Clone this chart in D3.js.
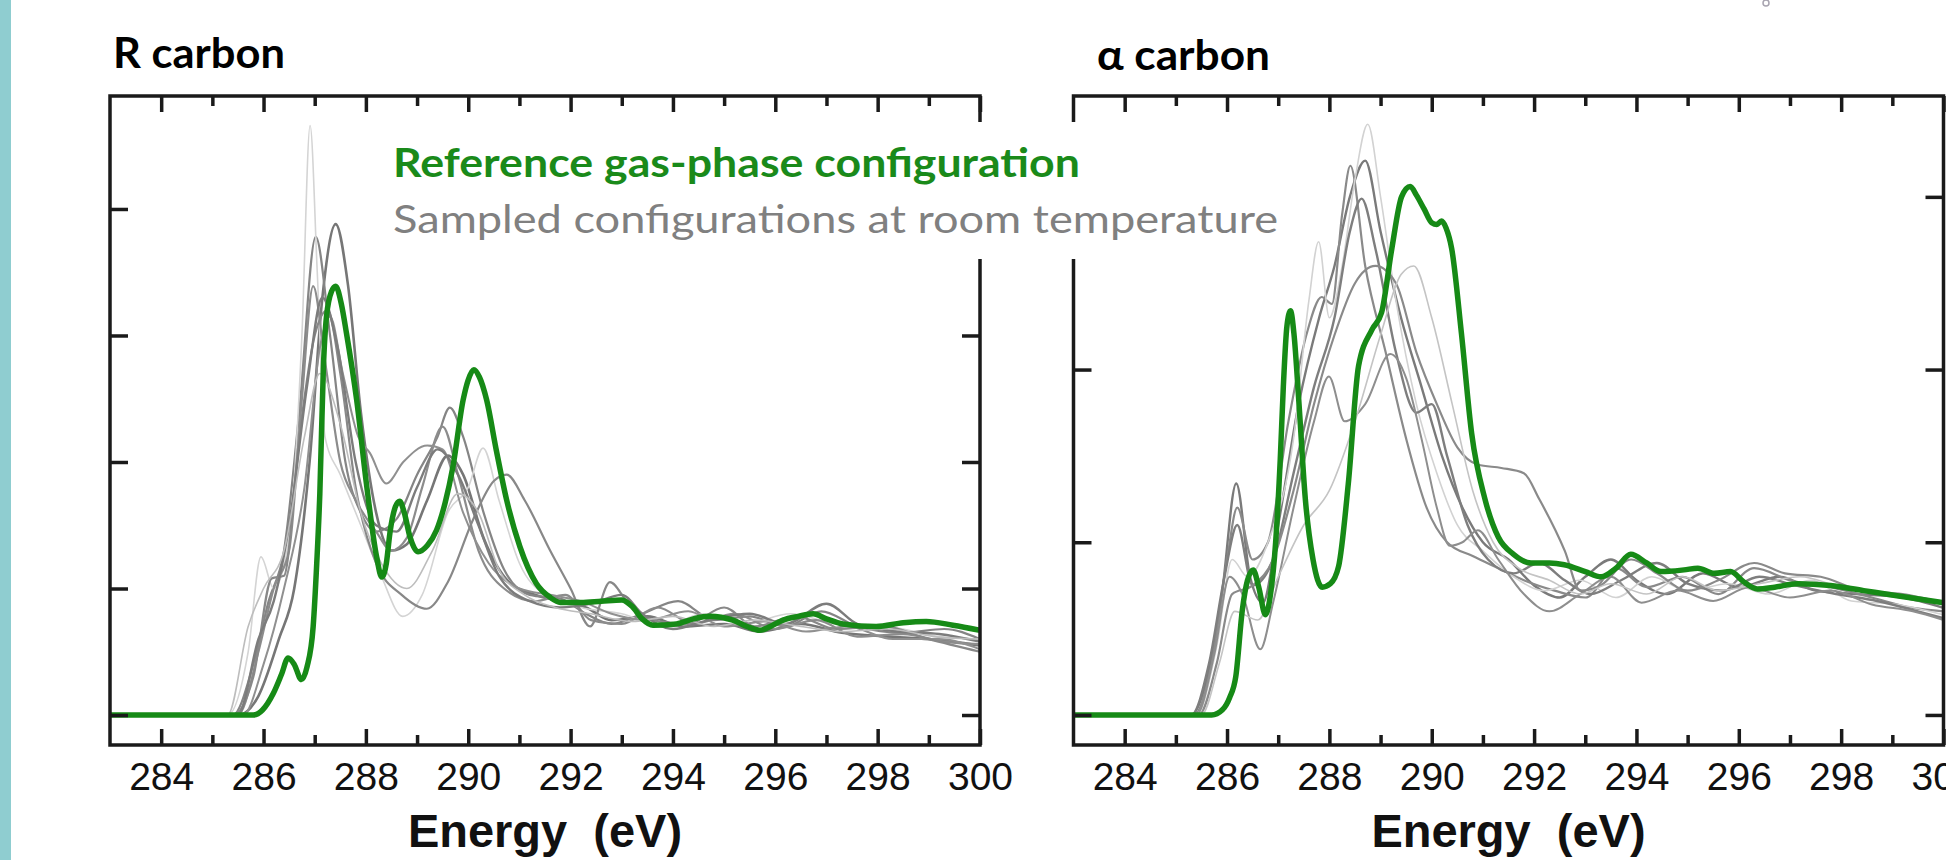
<!DOCTYPE html>
<html>
<head>
<meta charset="utf-8">
<script src="https://cdn.jsdelivr.net/npm/d3@7"></script>
<style>
body { margin: 0; background: #fff; overflow: hidden; }
svg { display: block; }
</style>
</head>
<body>
<div id="chart-area"></div>
<script>
const WIDTH = 1946
const HEIGHT = 860

// tick values (energy in eV, intensity in arbitrary tick units)
const energyTicks = [284, 286, 288, 290, 292, 294, 296, 298, 300]
const energyMinor = [285, 287, 289, 291, 293, 295, 297, 299]
const rTicksY = [0, 1, 2, 3, 4]
const alphaTicksY = [0, 1, 2, 3]

// R carbon: reference gas-phase spectrum [eV, intensity]
const rCarbonRef = [[283,0],[285.8,0],[285.98,0.04],[286.19,0.17],[286.35,0.32],[286.48,0.45],[286.6,0.4],[286.74,0.28],[286.85,0.38],[286.97,0.7],[287.04,1.2],[287.1,1.75],[287.17,2.75],[287.23,3.15],[287.33,3.35],[287.41,3.39],[287.52,3.25],[287.62,3.02],[287.82,2.49],[288.01,1.83],[288.21,1.25],[288.31,1.09],[288.4,1.2],[288.47,1.44],[288.58,1.65],[288.66,1.69],[288.75,1.6],[288.86,1.41],[289.02,1.29],[289.2,1.34],[289.38,1.46],[289.55,1.68],[289.7,1.96],[289.9,2.49],[290,2.65],[290.11,2.73],[290.22,2.67],[290.36,2.49],[290.55,2.09],[290.75,1.7],[291.01,1.33],[291.33,1.04],[291.6,0.93],[291.8,0.89],[292.2,0.89],[292.6,0.9],[293,0.91],[293.2,0.86],[293.4,0.76],[293.61,0.71],[294.07,0.72],[294.4,0.76],[294.72,0.78],[295.17,0.75],[295.45,0.7],[295.7,0.67],[295.95,0.71],[296.15,0.75],[296.45,0.78],[296.74,0.8],[297,0.76],[297.32,0.72],[297.97,0.7],[298.5,0.73],[298.95,0.74],[299.47,0.71],[300,0.67]]

// R carbon: sampled room temperature configurations
const rCarbonSampled = [
  [[283,0],[285.5,0],[285.9,0.15],[286.3,0.6],[286.6,1.0],[286.9,2.0],[287.15,3.3],[287.41,3.88],[287.65,3.4],[287.9,2.4],[288.2,1.6],[288.5,1.3],[288.8,1.35],[289.2,1.7],[289.6,2.05],[289.9,1.9],[290.3,1.4],[290.8,1.05],[291.3,0.95],[291.8,0.9],[292.3,0.85],[292.8,0.75],[293.5,0.78],[294.2,0.7],[295,0.72],[295.7,0.66],[296.5,0.72],[297.3,0.65],[298.2,0.62],[299,0.6],[300,0.55]],
  [[283,0],[285.4,0],[285.8,0.4],[286.1,0.9],[286.4,1.3],[286.7,2.4],[287.02,3.78],[287.3,3.0],[287.6,2.0],[287.9,1.6],[288.2,1.45],[288.6,1.55],[289,1.9],[289.4,2.2],[289.64,2.43],[289.9,2.2],[290.3,1.6],[290.7,1.15],[291.2,0.95],[291.8,0.92],[292.3,0.8],[292.8,0.72],[293.4,0.8],[294.1,0.9],[294.8,0.75],[295.5,0.78],[296.2,0.7],[296.9,0.82],[297.6,0.7],[298.5,0.65],[299.3,0.68],[300,0.6]],
  [[283,0],[285.3,0],[285.7,0.5],[285.95,1.25],[286.2,1.0],[286.5,1.4],[286.75,3.0],[286.91,4.66],[287.05,3.5],[287.2,2.2],[287.5,1.9],[287.9,1.5],[288.3,1.1],[288.72,0.78],[289.1,0.95],[289.6,1.6],[290,1.8],[290.29,2.11],[290.6,1.7],[291,1.2],[291.5,0.95],[292.2,0.85],[293,0.8],[293.8,0.7],[294.6,0.8],[295.4,0.72],[296.3,0.8],[297.2,0.72],[298.2,0.7],[299.2,0.62],[300,0.6]],
  [[283,0],[285.5,0],[285.9,0.5],[286.2,1.0],[286.5,1.3],[286.75,2.5],[286.97,3.39],[287.2,2.8],[287.5,2.0],[287.8,1.7],[288.2,1.45],[288.5,1.3],[288.8,1.4],[289.1,1.8],[289.5,2.28],[289.8,1.9],[290.2,1.3],[290.7,1.0],[291.3,0.9],[291.9,0.95],[292.4,0.75],[293,0.72],[293.7,0.85],[294.4,0.72],[295.2,0.8],[296,0.68],[296.8,0.75],[297.6,0.62],[298.5,0.64],[299.3,0.58],[300,0.56]],
  [[283,0],[285.6,0],[286,0.4],[286.4,1.0],[286.8,1.8],[287.1,2.9],[287.3,3.15],[287.55,2.7],[287.85,2.2],[288.08,2.07],[288.4,1.83],[288.73,2.0],[289.2,2.13],[289.5,2.1],[289.9,1.6],[290.4,1.2],[291,1.0],[291.6,0.95],[292.2,0.9],[292.8,0.8],[293.5,0.75],[294.3,0.82],[295,0.7],[295.8,0.74],[296.6,0.66],[297.4,0.7],[298.3,0.6],[299.2,0.6],[300,0.52]],
  [[283,0],[285.4,0],[285.8,0.3],[286.16,1.08],[286.4,1.1],[286.7,2.2],[287,3.0],[287.25,3.2],[287.5,2.7],[287.8,1.8],[288.2,1.2],[288.7,0.95],[289.19,0.84],[289.6,1.05],[290.1,1.55],[290.5,1.85],[290.75,1.9],[291.1,1.7],[291.6,1.3],[292,1.0],[292.38,0.7],[292.77,1.05],[293.1,0.9],[293.6,0.75],[294.3,0.72],[295,0.85],[295.6,0.7],[296.4,0.78],[297.2,0.68],[298.1,0.7],[299,0.6],[300,0.5]],
  [[283,0],[285.5,0],[285.9,0.6],[286.2,0.9],[286.5,1.5],[286.85,2.6],[287.15,3.3],[287.45,2.9],[287.8,2.0],[288.2,1.5],[288.6,1.45],[289,1.8],[289.4,2.1],[289.8,1.9],[290.2,1.5],[290.6,1.1],[291.2,0.9],[291.8,0.85],[292.4,0.88],[293,0.95],[293.4,0.8],[294,0.68],[294.7,0.75],[295.5,0.8],[296.2,0.72],[297,0.88],[297.6,0.72],[298.4,0.66],[299.2,0.64],[300,0.58]],
  [[283,0],[285.3,0],[285.7,0.7],[286,1.0],[286.4,1.3],[286.8,2.2],[287.1,2.7],[287.5,2.3],[287.9,1.6],[288.3,1.2],[288.8,1.0],[289.3,1.3],[289.8,1.75],[290.2,1.6],[290.6,1.15],[291.1,0.95],[291.7,0.85],[292.4,0.8],[293.2,0.74],[294,0.78],[294.8,0.7],[295.6,0.75],[296.5,0.7],[297.3,0.66],[298.2,0.68],[299.1,0.62],[300,0.6]]
]

// alpha carbon: reference gas-phase spectrum
const alphaCarbonRef = [[283,0],[285.7,0],[285.91,0.03],[286.05,0.1],[286.17,0.22],[286.3,0.61],[286.4,0.78],[286.51,0.84],[286.62,0.74],[286.75,0.58],[286.85,0.7],[286.95,1.0],[287.04,1.48],[287.1,1.9],[287.17,2.25],[287.24,2.34],[287.31,2.2],[287.4,1.83],[287.53,1.25],[287.68,0.9],[287.86,0.74],[288.02,0.76],[288.18,0.86],[288.37,1.34],[288.57,2.02],[288.83,2.23],[289.02,2.33],[289.22,2.7],[289.41,3.0],[289.58,3.06],[289.7,3.01],[289.85,2.93],[290,2.85],[290.1,2.84],[290.19,2.86],[290.28,2.82],[290.39,2.7],[290.58,2.21],[290.78,1.63],[291.04,1.25],[291.3,1.03],[291.6,0.93],[291.94,0.88],[292.3,0.88],[292.59,0.87],[293,0.83],[293.31,0.8],[293.6,0.85],[293.89,0.93],[294.2,0.88],[294.48,0.83],[294.93,0.84],[295.2,0.85],[295.52,0.82],[295.84,0.83],[296.1,0.77],[296.36,0.73],[296.7,0.74],[297.14,0.76],[297.79,0.75],[298.44,0.72],[299.09,0.69],[300,0.65]]

// alpha carbon: sampled room temperature configurations
const alphaCarbonSampled = [
  [[283,0],[285.3,0],[285.6,0.2],[285.9,0.7],[286.18,1.34],[286.45,0.8],[286.7,0.65],[287,1.1],[287.4,1.8],[287.8,2.3],[288.1,2.6],[288.4,3.0],[288.7,3.21],[289,2.8],[289.4,2.3],[289.8,1.9],[290.2,1.5],[290.6,1.2],[291,1.0],[291.5,0.9],[292,0.75],[292.5,0.68],[293,0.8],[293.5,0.9],[294,0.78],[294.6,0.7],[295.3,0.82],[296,0.74],[296.8,0.8],[297.5,0.72],[298.3,0.7],[299.2,0.68],[300,0.62]],
  [[283,0],[285.35,0],[285.7,0.3],[286,0.9],[286.2,1.2],[286.5,0.9],[286.8,1.0],[287.2,1.7],[287.55,2.2],[287.85,2.42],[288.05,2.38],[288.25,2.9],[288.41,3.18],[288.7,2.6],[289.1,2.1],[289.5,1.6],[289.9,1.2],[290.3,1.0],[290.8,0.92],[291.3,0.85],[291.8,0.78],[292.4,0.72],[293,0.68],[293.6,0.85],[294.2,0.74],[294.9,0.8],[295.6,0.7],[296.3,0.85],[297,0.78],[297.8,0.74],[298.6,0.68],[299.4,0.62],[300,0.6]],
  [[283,0],[285.4,0],[285.8,0.4],[286.1,0.9],[286.4,0.8],[286.8,1.0],[287.3,1.6],[287.6,2.4],[287.79,2.74],[288,2.3],[288.25,2.6],[288.5,3.1],[288.75,3.42],[289,3.0],[289.3,2.4],[289.7,1.8],[290.1,1.4],[290.5,1.1],[291,0.95],[291.6,0.8],[292.2,0.72],[292.9,0.78],[293.6,0.68],[294.3,0.8],[295,0.72],[295.8,0.76],[296.6,0.7],[297.4,0.78],[298.2,0.66],[299.1,0.64],[300,0.58]],
  [[283,0],[285.3,0],[285.65,0.3],[285.95,0.8],[286.2,1.1],[286.5,0.75],[286.9,0.9],[287.3,1.4],[287.7,1.9],[288.1,2.3],[288.4,2.8],[288.63,2.99],[288.9,2.7],[289.3,2.1],[289.7,1.75],[290,1.8],[290.3,1.5],[290.7,1.1],[291.1,0.9],[291.6,0.82],[292.1,0.88],[292.6,0.78],[293.1,0.7],[293.7,0.78],[294.4,0.88],[295,0.76],[295.7,0.72],[296.4,0.8],[297.1,0.75],[297.9,0.7],[298.7,0.66],[299.5,0.6],[300,0.56]],
  [[283,0],[285.4,0],[285.75,0.35],[286.05,0.8],[286.3,0.7],[286.65,0.38],[286.9,0.65],[287.3,1.2],[287.7,1.7],[287.99,1.96],[288.3,1.7],[288.7,1.8],[289.19,2.09],[289.5,1.95],[289.8,1.6],[290.1,1.2],[290.35,0.98],[290.6,1.0],[290.9,1.07],[291.3,0.9],[291.8,0.7],[292.3,0.6],[292.9,0.7],[293.5,0.8],[294.1,0.65],[294.8,0.72],[295.5,0.66],[296.2,0.74],[297,0.68],[297.8,0.72],[298.6,0.64],[299.4,0.6],[300,0.55]],
  [[283,0],[285.45,0],[285.8,0.3],[286.1,0.7],[286.5,0.75],[286.9,0.9],[287.3,1.3],[287.7,1.8],[288.1,2.2],[288.5,2.5],[288.9,2.6],[289.3,2.5],[289.7,2.1],[290.1,1.8],[290.5,1.55],[290.9,1.45],[291.36,1.43],[291.8,1.4],[292.1,1.25],[292.6,0.95],[292.9,0.72],[293.3,0.75],[293.9,0.9],[294.4,0.82],[295,0.72],[295.6,0.78],[296.3,0.88],[296.9,0.82],[297.6,0.8],[298.4,0.72],[299.2,0.7],[300,0.65]],
  [[283,0],[285.5,0],[285.85,0.3],[286.15,0.6],[286.6,0.55],[287,0.8],[287.5,1.1],[288,1.3],[288.5,1.7],[289,2.2],[289.4,2.55],[289.65,2.6],[290,2.3],[290.4,1.8],[290.8,1.3],[291.2,1.0],[291.7,0.85],[292.3,0.78],[292.9,0.7],[293.5,0.76],[294.2,0.7],[294.9,0.8],[295.6,0.72],[296.4,0.76],[297.2,0.8],[298,0.74],[298.9,0.7],[299.6,0.66],[300,0.64]]
]

// line looks for the sampled curves (kept apart from the data)
const rShades = [
  {c: "#767676", w: 2.6}, {c: "#858585", w: 2.2}, {c: "#d4d4d4", w: 1.6}, {c: "#8c8c8c", w: 2.2},
  {c: "#909090", w: 2}, {c: "#888888", w: 2.2}, {c: "#7c7c7c", w: 2.4}, {c: "#bdbdbd", w: 1.6}
]
const alphaShades = [
  {c: "#7a7a7a", w: 2.4}, {c: "#8a8a8a", w: 2.2}, {c: "#d2d2d2", w: 1.6}, {c: "#7e7e7e", w: 2.4},
  {c: "#8e8e8e", w: 2}, {c: "#8a8a8a", w: 2.2}, {c: "#c4c4c4", w: 1.6}
]

const GREEN = "#168a16"
const FRAME = "#1a1a1a"

const svg = d3.select("#chart-area").append("svg")
  .attr("width", WIDTH)
  .attr("height", HEIGHT)

// teal strip on the left edge
svg.append("rect")
  .attr("x", 0).attr("y", 0)
  .attr("width", 11).attr("height", HEIGHT)
  .attr("fill", "#8fcdd0")

// tiny leftover mark at top right
svg.append("circle")
  .attr("cx", 1766).attr("cy", 3).attr("r", 3)
  .attr("fill", "none").attr("stroke", "#a8a4b0").attr("stroke-width", 1.5)

function drawPanel(cfg, idx) {
  const x = d3.scaleLinear().domain([283, 300]).range([cfg.left, cfg.right])
  const y = d3.scaleLinear().domain([cfg.yMin, cfg.yMax]).range([cfg.bottom, cfg.top])

  const g = svg.append("g")

  // clip so curves stop at the frame
  svg.append("clipPath").attr("id", "clip" + idx)
    .append("rect")
    .attr("x", cfg.left).attr("y", cfg.top)
    .attr("width", cfg.right - cfg.left).attr("height", cfg.bottom - cfg.top)

  const line = d3.line()
    .x(d => x(d[0]))
    .y(d => y(d[1]))
    .curve(d3.curveMonotoneX)

  const curves = g.append("g").attr("clip-path", `url(#clip${idx})`)

  curves.selectAll("path.sampled")
    .data(cfg.sampled)
    .enter().append("path")
    .attr("class", "sampled")
    .attr("d", line)
    .attr("fill", "none")
    .attr("stroke", (d, i) => cfg.shades[i].c)
    .attr("stroke-width", (d, i) => cfg.shades[i].w)
    .attr("stroke-linejoin", "round")

  curves.append("path")
    .attr("d", line(cfg.ref))
    .attr("fill", "none")
    .attr("stroke", GREEN)
    .attr("stroke-width", 5.5)
    .attr("stroke-linejoin", "round")

  // frame
  g.append("rect")
    .attr("x", cfg.left).attr("y", cfg.top)
    .attr("width", cfg.right - cfg.left).attr("height", cfg.bottom - cfg.top)
    .attr("fill", "none")
    .attr("stroke", FRAME)
    .attr("stroke-width", 3.5)

  const noDomain = sel => sel.select(".domain").remove()
  const tickStyle = sel => sel.selectAll(".tick line").attr("stroke", FRAME).attr("stroke-width", 3.5)

  // bottom axis with labels, ticks pointing inward
  g.append("g")
    .attr("transform", `translate(0, ${cfg.bottom})`)
    .call(d3.axisBottom(x).tickValues(energyTicks).tickSize(-16).tickPadding(17).tickFormat(d3.format("d")))
    .call(noDomain).call(tickStyle)
    .selectAll("text")
      .attr("font-family", "'Liberation Sans', Arial, sans-serif")
      .attr("font-size", "39px")
      .attr("fill", "#111")

  g.append("g")
    .attr("transform", `translate(0, ${cfg.bottom})`)
    .call(d3.axisBottom(x).tickValues(energyMinor).tickSize(-10).tickFormat(""))
    .call(noDomain).call(tickStyle)

  // top axis, ticks only
  g.append("g")
    .attr("transform", `translate(0, ${cfg.top})`)
    .call(d3.axisTop(x).tickValues(energyTicks).tickSize(-16).tickFormat(""))
    .call(noDomain).call(tickStyle)

  g.append("g")
    .attr("transform", `translate(0, ${cfg.top})`)
    .call(d3.axisTop(x).tickValues(energyMinor).tickSize(-10).tickFormat(""))
    .call(noDomain).call(tickStyle)

  // y axes, unlabeled
  g.append("g")
    .attr("transform", `translate(${cfg.left}, 0)`)
    .call(d3.axisLeft(y).tickValues(cfg.yTicks).tickSize(-18).tickFormat(""))
    .call(noDomain).call(tickStyle)

  g.append("g")
    .attr("transform", `translate(${cfg.right}, 0)`)
    .call(d3.axisRight(y).tickValues(cfg.yTicks).tickSize(-18).tickFormat(""))
    .call(noDomain).call(tickStyle)

  // x-label
  g.append("text")
    .attr("x", (cfg.left + cfg.right) / 2)
    .attr("y", 847)
    .attr("text-anchor", "middle")
    .attr("font-family", "'Liberation Sans', Arial, sans-serif")
    .attr("font-weight", "bold")
    .attr("font-size", "47px")
    .attr("fill", "#111")
    .style("white-space", "pre")
    .text("Energy  (eV)")

  // panel title
  g.append("text")
    .attr("x", cfg.titleX)
    .attr("y", cfg.titleY)
    .attr("font-family", "Lato, 'Open Sans', sans-serif")
    .attr("font-weight", "bold")
    .attr("font-size", "42px")
    .attr("fill", "#000")
    .attr("textLength", cfg.titleW)
    .attr("lengthAdjust", "spacingAndGlyphs")
    .text(cfg.title)
}

drawPanel({
  title: "R carbon", titleX: 113, titleY: 68, titleW: 172,
  left: 110, right: 980, top: 96, bottom: 745,
  yMin: -0.237, yMax: 4.893, yTicks: rTicksY,
  ref: rCarbonRef, sampled: rCarbonSampled, shades: rShades
}, 0)

drawPanel({
  title: "α carbon", titleX: 1097, titleY: 70, titleW: 173,
  left: 1073.5, right: 1943.5, top: 96, bottom: 745,
  yMin: -0.174, yMax: 3.584, yTicks: alphaTicksY,
  ref: alphaCarbonRef, sampled: alphaCarbonSampled, shades: alphaShades
}, 1)

// legend box sits over both frames
svg.append("rect")
  .attr("x", 386).attr("y", 122)
  .attr("width", 902).attr("height", 137)
  .attr("fill", "#fff")

svg.append("text")
  .attr("x", 393).attr("y", 177)
  .attr("font-family", "Lato, 'Open Sans', sans-serif")
  .attr("font-weight", "bold")
  .attr("font-size", "40px")
  .attr("fill", "#1a8a1a")
  .attr("textLength", 687)
  .attr("lengthAdjust", "spacingAndGlyphs")
  .text("Reference gas-phase configuration")

svg.append("text")
  .attr("x", 393).attr("y", 233)
  .attr("font-family", "Lato, 'Open Sans', sans-serif")
  .attr("font-size", "39px")
  .attr("fill", "#808080")
  .attr("textLength", 885)
  .attr("lengthAdjust", "spacingAndGlyphs")
  .text("Sampled configurations at room temperature")
</script>
</body>
</html>
